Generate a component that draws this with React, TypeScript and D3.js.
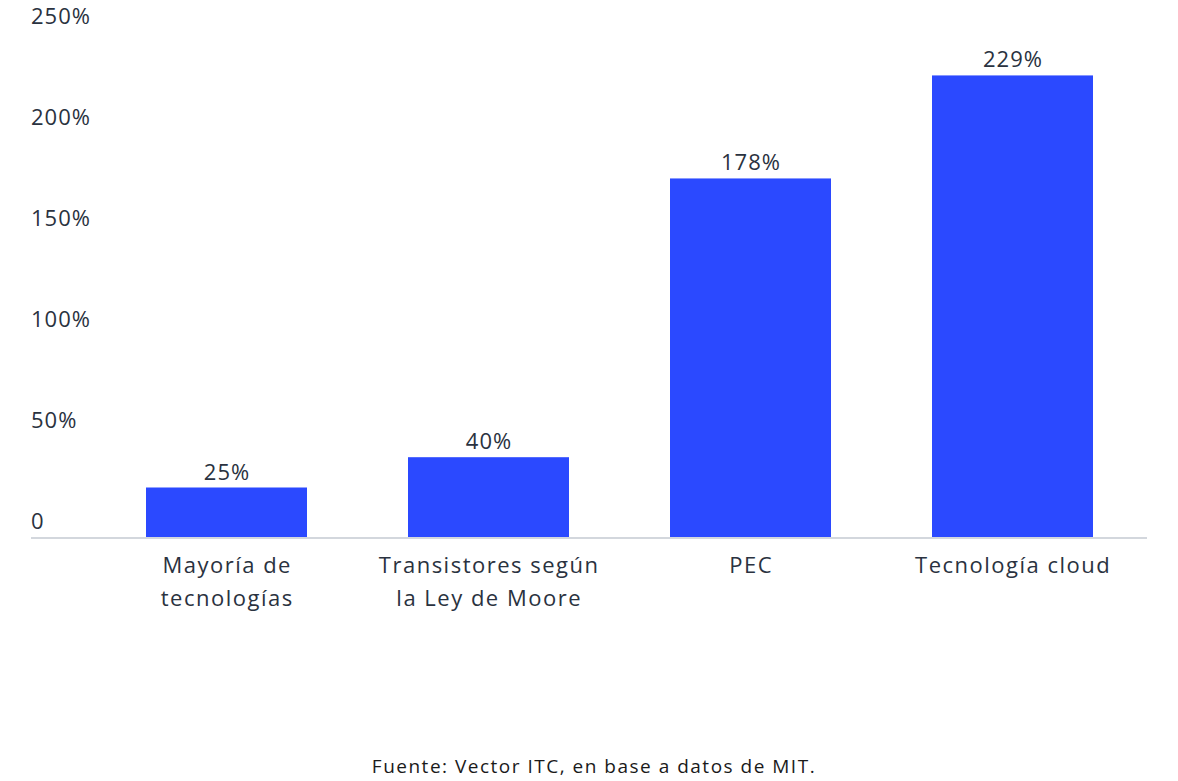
import React from "react";
import * as d3 from "d3";

const categories: string[][] = [
  ["Mayoría de", "tecnologías"],
  ["Transistores según", "la Ley de Moore"],
  ["PEC"],
  ["Tecnología cloud"],
];
const values: number[] = [25, 40, 178, 229];
const valueLabels: string[] = ["25%", "40%", "178%", "229%"];
const yTicks: number[] = [0, 50, 100, 150, 200, 250];
const yTickLabels: string[] = ["0", "50%", "100%", "150%", "200%", "250%"];
const source = "Fuente: Vector ITC, en base a datos de MIT.";

const W = 1178;
const H = 781;
const FONT = "'Open Sans', 'Noto Sans', sans-serif";
const TEXT = "#2a3240";
const BAR = "#2b49ff";

export default function App() {
  const keys = categories.map((_, i) => String(i));
  const x = d3
    .scaleBand<string>()
    .domain(keys)
    .range([95.5, 1143.5])
    .paddingInner(0.3855)
    .paddingOuter(0.19275);
  const y = d3.scaleLinear().domain([0, 250]).range([538, 33]);
  const base = y(0);

  return (
    <svg
      width={W}
      height={H}
      style={{ position: "absolute", left: 0, top: 0, background: "#fff" }}
      fontFamily={FONT}
    >
      {yTicks.map((t, i) => (
        <text key={t} x={31} y={y(t) - 9} fontSize={22} letterSpacing={1} fill={TEXT}>
          {yTickLabels[i]}
        </text>
      ))}
      {values.map((v, i) => {
        const bx = x(keys[i])!;
        const bw = x.bandwidth();
        const cx = bx + bw / 2;
        return (
          <g key={i}>
            <rect x={bx} y={y(v)} width={bw} height={base - y(v)} fill={BAR} />
            <text
              x={cx + 0.5}
              y={y(v) - 8}
              fontSize={22}
              letterSpacing={1}
              fill={TEXT}
              textAnchor="middle"
            >
              {valueLabels[i]}
            </text>
            {categories[i].map((line, j) => (
              <text
                key={j}
                x={cx + 0.7}
                y={573 + j * 33}
                fontSize={22}
                letterSpacing={1.5}
                fill={TEXT}
                textAnchor="middle"
              >
                {line}
              </text>
            ))}
          </g>
        );
      })}
      <line x1={31} x2={1147} y1={base} y2={base} stroke="#d3d7dd" strokeWidth={2} />
      <text
        x={594}
        y={773}
        fontSize={19}
        letterSpacing={1.5}
        fill="#1a1a1a"
        textAnchor="middle"
      >
        {source}
      </text>
    </svg>
  );
}
